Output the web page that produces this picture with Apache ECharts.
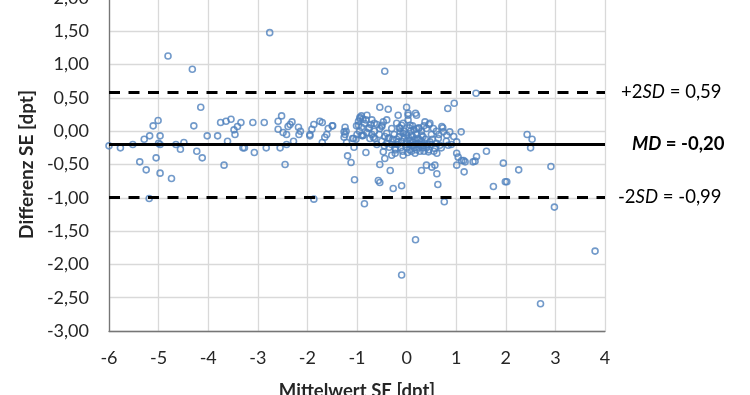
<!DOCTYPE html>
<html>
<head>
<meta charset="utf-8">
<script src="https://cdn.jsdelivr.net/npm/echarts@6/dist/echarts.min.js"></script>
<style>html,body{margin:0;padding:0;background:#fff;}#c{width:750px;height:395px;}</style>
</head>
<body>
<div id="c"></div>
<script>
// Bland-Altman: [Mittelwert SE, Differenz SE]
const points = [
[-6.00,-0.22],[-5.77,-0.25],[-5.52,-0.20],[-5.38,-0.46],[-5.29,-0.12],[-5.25,-0.58],[-5.18,-0.07],[-5.19,-1.01],[-5.11,0.08],[-5.05,-0.40],[-5.01,0.16],[-5.00,-0.18],[-4.97,-0.07],[-4.97,-0.20],[-4.97,-0.63],[-4.74,-0.71],[-4.65,-0.20],[-4.56,-0.27],[-4.49,-0.17],[-4.29,0.08],[-4.23,-0.30],[-4.15,0.36],[-4.12,-0.40],[-4.02,-0.07],[-3.81,-0.07],[-3.75,0.13],[-3.68,-0.51],[-3.64,0.15],[-3.61,-0.15],[-3.54,0.18],[-3.48,0.02],[-3.46,-0.05],[-3.41,0.07],[-3.34,0.13],[-3.30,-0.25],[-3.27,-0.25],[-3.10,0.13],[-3.07,-0.32],[-2.87,0.13],[-2.83,-0.25],[-2.59,0.15],[-2.59,0.03],[-2.55,-0.25],[-2.52,0.23],[-2.49,-0.02],[-2.45,-0.50],[-2.42,-0.05],[-2.42,-0.20],[-2.39,0.07],[-2.35,0.10],[-2.31,0.14],[-2.28,-0.15],[-2.18,0.06],[-2.17,-0.05],[-2.14,0.00],[-1.95,-0.05],[-1.95,-0.07],[-1.91,0.03],[-1.87,0.10],[-1.87,-1.02],[-1.75,0.15],[-1.70,0.13],[-1.70,-0.17],[-1.65,-0.09],[-1.61,-0.05],[-1.58,0.04],[-1.50,0.08],
[-4.81,1.13],[-4.32,0.93],[-2.76,1.48],
[-1.49,0.08],[-1.26,-0.01],[-1.26,-0.09],[-1.24,0.06],[-1.24,-0.05],[-1.22,0.00],[-1.21,-0.17],[-1.19,-0.37],[-1.12,-0.47],[-1.09,-0.11],[-1.07,-0.11],[-1.06,-0.24],[-1.05,-0.73],[-1.02,-0.12],[-1.01,0.08],[-0.97,0.15],[-0.97,0.09],[-0.94,0.21],[-0.94,0.19],[-0.91,0.23],[-0.91,0.06],[-0.89,-0.07],[-0.85,-1.09],[-0.91,-0.06],[-0.87,-0.06],[-0.82,0.17],[-0.82,-0.32],[-0.80,0.24],[-0.77,0.04],[-0.74,-0.11],[-0.70,0.17],[-0.67,-0.09],[-0.64,-0.11],[-0.57,-0.74],[-0.54,0.36],[-0.54,-0.77],[-0.54,-0.50],[-0.54,0.04],[-0.50,0.07],[-0.50,0.09],[-0.47,-0.31],[-0.47,0.14],[-0.44,-0.41],[-0.44,-0.08],[-0.40,-0.03],[-0.40,0.17],[-0.37,0.33],[-0.37,-0.11],[-0.35,-0.24],[-0.33,-0.59],[-0.30,0.04],[-0.30,-0.36],[-0.27,-0.86],[-0.23,-0.26],[-0.23,-0.33],[-0.17,0.24],[-0.17,-0.16],[-0.13,-0.01],[-0.13,0.04],[-0.10,-0.82],[-0.10,0.09],[-0.07,0.12],[-0.07,-0.36],[-0.07,-0.03],[0.00,0.36],[0.03,0.24],[0.03,0.27],[0.03,0.17],[0.07,0.09],[0.10,-0.06],[0.14,-0.21],[0.17,-0.33],[0.20,0.04],[0.22,-0.11],[0.18,0.27],[0.20,0.24],[0.24,0.04],[0.30,-0.06],[0.30,-0.59],[0.34,-0.21],[0.37,0.14],[0.40,0.04],[0.40,-0.51],[0.44,-0.31],[0.47,0.12],[0.47,-0.16],[0.51,-0.54],[0.54,0.04],[0.57,-0.26],[0.57,-0.51],[0.61,-0.64],[0.61,-0.33],[0.63,-0.80],[0.64,-0.11],[0.67,-0.21],[0.71,0.07],[0.73,0.05],[0.74,-0.01],[0.76,-1.06],[0.81,-0.06],[0.83,0.34],[0.84,-0.21],[0.87,-0.01],[0.96,0.42],[1.01,-0.16],[1.01,-0.33],[1.01,-0.51],[1.04,-0.39],[1.10,-0.01],[1.11,-0.44],[1.15,-0.44],[1.16,-0.61],[1.18,-0.46],[1.34,-0.46],[1.40,0.57],[1.41,-0.38],[1.38,-0.45],[1.61,-0.30],[1.75,-0.83],[1.95,-0.48],[1.99,-0.76],[2.02,-0.76],[2.26,-0.58],[2.43,-0.05],[2.53,-0.12],[2.50,-0.25],[2.91,-0.53],[2.98,-1.14],[0.18,-1.63],[3.80,-1.80],[-0.10,-2.16],[2.70,-2.59],[-0.44,0.90],
[-0.25,-0.05],[-0.20,-0.12],[-0.18,-0.20],[-0.15,-0.08],[-0.12,-0.25],[-0.10,-0.15],[-0.08,-0.30],[-0.05,-0.10],[-0.03,-0.20],[0.00,-0.05],[0.00,-0.15],[0.00,-0.25],[0.02,-0.32],[0.04,-0.10],[0.05,-0.20],[0.06,-0.28],[0.08,0.00],[0.08,-0.14],[0.10,-0.22],[0.10,-0.30],[0.12,-0.08],[0.13,-0.17],[0.15,-0.25],[0.15,0.02],[0.17,-0.12],[0.18,-0.20],[0.20,-0.28],[0.20,-0.05],[0.22,-0.18],[0.24,-0.24],[0.25,-0.12],[0.27,-0.30],[0.28,-0.20],[0.30,-0.15],[0.32,-0.25],[0.33,-0.08],[0.35,-0.30],[0.36,-0.18],[0.38,-0.12],[0.40,-0.25],[0.42,-0.20],[0.45,-0.28],[0.50,-0.20],[0.52,-0.12],[0.55,-0.30],[0.60,-0.18],[-0.30,-0.20],[-0.28,-0.12],[-0.22,-0.28],[-0.35,-0.10],[-0.40,-0.18],[-0.45,-0.22],[-0.50,-0.15],[-0.55,-0.05],[-0.60,-0.20],[-0.65,0.00],[-0.70,-0.05],[-0.75,0.05],[-0.80,-0.02],[-0.85,0.12],[-0.88,0.18],[-0.95,0.00],[-1.00,-0.05],[-0.60,0.10],[-0.65,0.12],[-0.72,0.10],[0.05,0.05],[0.12,0.08],[0.25,0.05],[-0.05,0.00],[-0.15,0.05],[-0.20,0.12],[0.30,0.00],[0.35,0.08],[0.45,0.10],[0.50,-0.05],[0.60,0.00],[0.65,-0.05],[0.70,-0.25],[0.80,-0.15],[0.90,-0.20],[0.95,-0.08]
];
const meanDiff = -0.20;
const upperLoA = 0.59;
const lowerLoA = -0.99;
const xTicks = {min: -6, max: 4, step: 1};
const yTicks = {min: -3, max: 2, step: 0.5};

const FONT = 'Lato';
const comma = (v, d) => v.toFixed(d).replace('.', ',');

const chart = echarts.init(document.getElementById('c'), null, {renderer: 'canvas'});
const textBase = {fontFamily: FONT, fontSize: 18.5, color: '#000'};
chart.setOption({
  animation: false,
  backgroundColor: '#fff',
  grid: {left: 109, right: 145, top: -2, bottom: 64, containLabel: false, outerBoundsMode: 'none'},
  xAxis: {
    type: 'value', min: xTicks.min, max: xTicks.max, interval: xTicks.step,
    name: 'Mittelwert SE [dpt]', nameLocation: 'middle', nameGap: 51,
    nameTextStyle: {fontFamily: FONT, fontSize: 18.5, fontWeight: 'bold', color: '#262626'},
    axisLine: {show: true, onZero: false, lineStyle: {color: '#767676', width: 1.3}},
    axisTick: {show: false},
    axisLabel: {margin: 18, fontFamily: FONT, fontSize: 18, color: '#262626', formatter: v => String(v)},
    splitLine: {show: true, lineStyle: {color: '#d9d9d9', width: 1.3}}
  },
  yAxis: {
    type: 'value', min: yTicks.min, max: yTicks.max, interval: yTicks.step,
    name: 'Differenz SE [dpt]', nameLocation: 'middle', nameGap: 66, nameRotate: 90,
    nameTextStyle: {fontFamily: FONT, fontSize: 19, fontWeight: 'bold', color: '#262626'},
    axisLine: {show: true, onZero: false, lineStyle: {color: '#767676', width: 1.3}},
    axisTick: {show: false},
    axisLabel: {margin: 20, fontFamily: FONT, fontSize: 18, color: '#262626', formatter: v => comma(v, 2)},
    splitLine: {show: true, lineStyle: {color: '#d9d9d9', width: 1.3}}
  },
  series: [
    {
      type: 'scatter', data: [], z: 1, silent: true,
      markLine: {
        silent: true, symbol: 'none', animation: false,
        data: [
          {yAxis: upperLoA, lineStyle: {type: [11, 8.5], color: '#000', width: 3},
           label: {show: true, position: 'end', distance: 16,
             formatter: p => '{n|+2}{i|SD}{n| = ' + comma(p.value, 2) + '}'}},
          {yAxis: meanDiff, lineStyle: {type: 'solid', color: '#000', width: 3},
           label: {show: true, position: 'end', distance: 27,
             formatter: p => '{bi|MD}{b| = ' + comma(p.value, 2) + '}'}},
          {yAxis: lowerLoA, lineStyle: {type: [11, 8.5], color: '#000', width: 3},
           label: {show: true, position: 'end', distance: 13,
             formatter: p => '{n|-2}{i|SD}{n| = ' + comma(p.value, 2) + '}'}}
        ],
        label: {
          rich: {
            n: Object.assign({}, textBase),
            i: Object.assign({}, textBase, {fontStyle: 'italic'}),
            b: Object.assign({}, textBase, {fontWeight: 'bold'}),
            bi: Object.assign({}, textBase, {fontWeight: 'bold', fontStyle: 'italic'})
          }
        }
      }
    },
    {
      type: 'scatter', data: points, z: 3,
      symbol: 'circle', symbolSize: 6,
      itemStyle: {color: 'rgba(255,255,255,0)', borderColor: '#4f81bd', borderWidth: 1.6}
    }
  ]
});
</script>
</body>
</html>
